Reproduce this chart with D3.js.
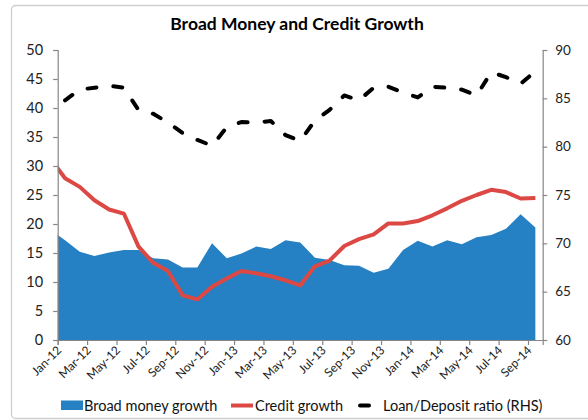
<!DOCTYPE html>
<html>
<head>
<meta charset="utf-8">
<script src="https://cdn.jsdelivr.net/npm/d3@7/dist/d3.min.js"></script>
<style>
  html, body { margin: 0; padding: 0; background: #fff; }
  svg { display: block; font-family: Lato, "Open Sans", sans-serif; }
</style>
</head>
<body>
<svg id="chart" width="588" height="420"></svg>
<script>
// Monthly observations, mid-month; Dec-11 only leads the series into the left edge.
const months = ["Dec-11",
  "Jan-12","Feb-12","Mar-12","Apr-12","May-12","Jun-12","Jul-12","Aug-12","Sep-12","Oct-12","Nov-12","Dec-12",
  "Jan-13","Feb-13","Mar-13","Apr-13","May-13","Jun-13","Jul-13","Aug-13","Sep-13","Oct-13","Nov-13","Dec-13",
  "Jan-14","Feb-14","Mar-14","Apr-14","May-14","Jun-14","Jul-14","Aug-14","Sep-14"];

const broadMoney = [19.0,
  17.2, 15.2, 14.5, 15.1, 15.5, 15.5, 14.1, 13.9, 12.5, 12.5, 16.7, 14.1,
  14.9, 16.1, 15.7, 17.2, 16.8, 14.2, 13.8, 12.9, 12.8, 11.6, 12.3, 15.5,
  17.1, 16.1, 17.2, 16.5, 17.7, 18.1, 19.2, 21.7, 19.4];

const creditGrowth = [31.3,
  27.9, 26.4, 24.1, 22.5, 21.8, 16.1, 13.3, 11.9, 7.7, 7.0, 9.2, 10.6,
  11.9, 11.5, 11.0, 10.3, 9.4, 12.7, 13.7, 16.2, 17.4, 18.2, 20.1, 20.1,
  20.5, 21.5, 22.7, 24.0, 25.0, 25.9, 25.5, 24.4, 24.5];

const loanDeposit = [null,
  84.8, 85.9, 86.1, 86.3, 86.1, 83.8, 83.4, 82.5, 81.4, 80.7, 80.1, 82.0,
  82.55, 82.5, 82.65, 81.2, 80.6, 82.7, 83.8, 85.3, 84.8, 86.1, 86.2, 85.6,
  85.1, 86.2, 86.1, 85.9, 85.3, 87.7, 87.2, 86.5, 87.8];

const xTickLabels = ["Jan-12","Mar-12","May-12","Jul-12","Sep-12","Nov-12",
  "Jan-13","Mar-13","May-13","Jul-13","Sep-13","Nov-13",
  "Jan-14","Mar-14","May-14","Jul-14","Sep-14"];

const leftTicks = [0, 5, 10, 15, 20, 25, 30, 35, 40, 45, 50];
const rightTicks = [60, 65, 70, 75, 80, 85, 90];

const colors = { money: "#2581c3", credit: "#dc4843", ratio: "#000000", axis: "#868686", text: "#404040" };

const svg = d3.select("#chart");
const plot = { left: 57.7, right: 542.7, top: 50, bottom: 340 };

// Month axis: Jan-12 = 0 at the left edge, Oct-14 = 33 at the right edge.
const x = d3.scaleLinear().domain([0, 33]).range([plot.left, plot.right]);
const y = d3.scaleLinear().domain([0, 50]).range([plot.bottom, plot.top]);
const y2 = d3.scaleLinear().domain([60, 90]).range([plot.bottom, plot.top]);

// each observation sits mid-month
const pos = i => x(i - 1 + 0.5);

// outer frame
svg.append("rect")
  .attr("x", 11.5).attr("y", 5.5).attr("width", 600).attr("height", 413)
  .attr("rx", 4)
  .attr("fill", "none").attr("stroke", "#cfcfcf").attr("stroke-width", 1.3);

// title
svg.append("text")
  .attr("x", 297).attr("y", 30)
  .attr("text-anchor", "middle")
  .attr("font-weight", "bold").attr("font-size", 17.5).attr("fill", "#000")
  .text("Broad Money and Credit Growth");

svg.append("clipPath").attr("id", "plotClip")
  .append("rect")
  .attr("x", plot.left).attr("y", plot.top - 10)
  .attr("width", plot.right - plot.left).attr("height", plot.bottom - plot.top + 10);

const g = svg.append("g").attr("clip-path", "url(#plotClip)");

// broad money growth area
const area = d3.area()
  .x((d, i) => pos(i))
  .y0(y(0))
  .y1(d => y(d));
g.append("path")
  .datum(broadMoney)
  .attr("d", area)
  .attr("fill", colors.money);

// credit growth line
const line = d3.line()
  .x((d, i) => pos(i))
  .y(d => y(d));
g.append("path")
  .datum(creditGrowth)
  .attr("d", line)
  .attr("fill", "none")
  .attr("stroke", colors.credit)
  .attr("stroke-width", 4)
  .attr("stroke-linejoin", "round");

// loan/deposit ratio on the right-hand scale
const ratioLine = d3.line()
  .defined(d => d !== null)
  .x((d, i) => pos(i))
  .y(d => y2(d));
g.append("path")
  .datum(loanDeposit)
  .attr("d", ratioLine)
  .attr("fill", "none")
  .attr("stroke", colors.ratio)
  .attr("stroke-width", 4)
  .attr("stroke-linecap", "round")
  .attr("stroke-linejoin", "round")
  .attr("stroke-dasharray", "9,17");

// left axis
const leftAxis = svg.append("g")
  .attr("transform", `translate(${plot.left},0)`)
  .call(d3.axisLeft(y).tickValues(leftTicks).tickSize(4.5).tickPadding(10));
// right axis
const rightAxis = svg.append("g")
  .attr("transform", `translate(${plot.right},0)`)
  .call(d3.axisRight(y2).tickValues(rightTicks).tickSize(4.5).tickPadding(8));
// bottom axis
const tickIdx = xTickLabels.map((_, k) => 2 * k);
const bottomAxis = svg.append("g")
  .attr("transform", `translate(0,${plot.bottom})`)
  .call(d3.axisBottom(x).tickValues(tickIdx).tickSize(5).tickFormat((d, k) => xTickLabels[k]));

[leftAxis, rightAxis, bottomAxis].forEach(a => {
  a.select(".domain").attr("stroke", colors.axis).attr("stroke-width", 1.2);
  a.selectAll(".tick line").attr("stroke", colors.axis).attr("stroke-width", 1.2);
  a.selectAll("text").attr("fill", "#222").attr("font-family", "Lato, 'Open Sans', sans-serif");
});
leftAxis.selectAll("text").attr("font-size", 14.5);
rightAxis.selectAll("text").attr("font-size", 13.5);
bottomAxis.selectAll("text")
  .attr("font-size", 12)
  .attr("text-anchor", "end")
  .attr("dy", null)
  .attr("y", 0)
  .attr("transform", "translate(4,11) rotate(-45)");

// legend
const leg = svg.append("g").attr("font-size", 14.5).attr("fill", "#111");
leg.append("rect").attr("x", 61).attr("y", 400.5).attr("width", 22).attr("height", 9.5).attr("fill", colors.money);
leg.append("text").attr("x", 84).attr("y", 410.5).text("Broad money growth");
leg.append("line").attr("x1", 231).attr("x2", 253).attr("y1", 405.5).attr("y2", 405.5)
  .attr("stroke", colors.credit).attr("stroke-width", 4);
leg.append("text").attr("x", 255).attr("y", 410.5).text("Credit growth");
leg.append("line").attr("x1", 360).attr("x2", 369).attr("y1", 405.5).attr("y2", 405.5)
  .attr("stroke", colors.ratio).attr("stroke-width", 4).attr("stroke-linecap", "round");
leg.append("text").attr("x", 383).attr("y", 410.5).text("Loan/Deposit ratio (RHS)");
</script>
</body>
</html>
